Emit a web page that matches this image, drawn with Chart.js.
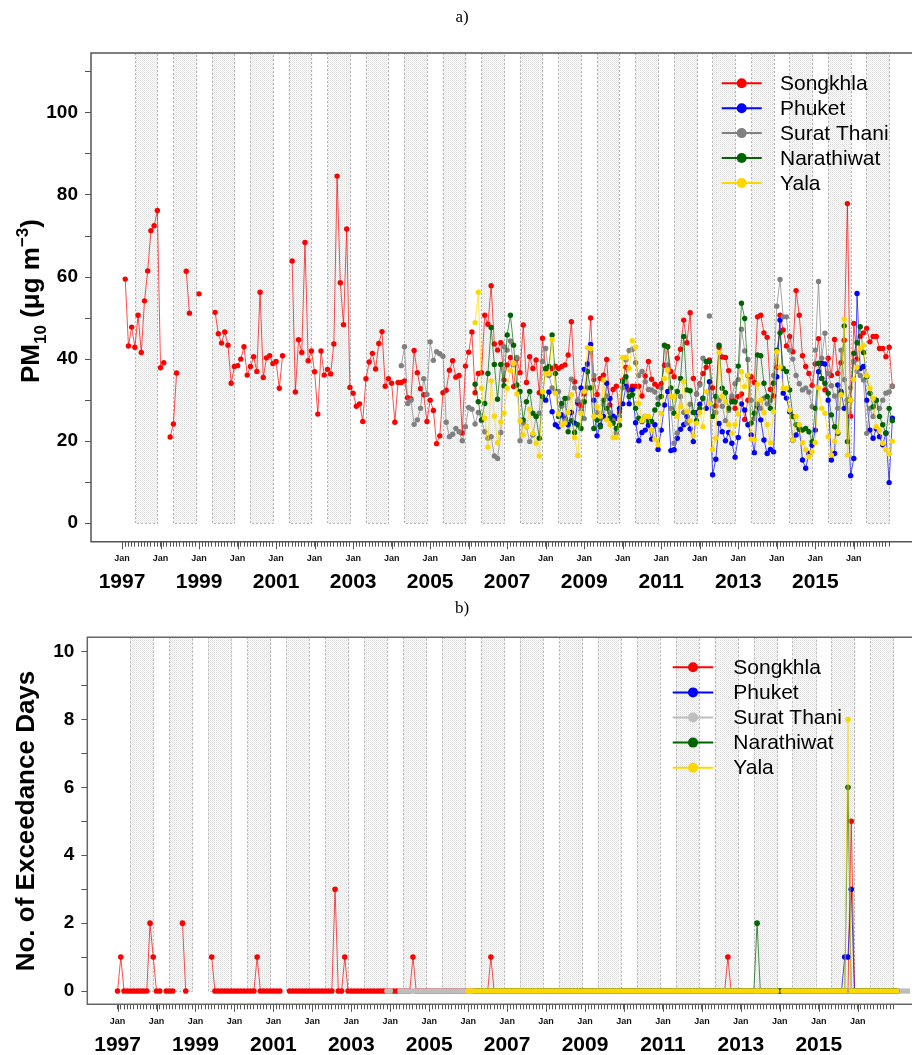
<!DOCTYPE html>
<html>
<head>
<meta charset="utf-8">
<script src="https://cdn.jsdelivr.net/npm/chart.js@4.4.0/dist/chart.umd.min.js"></script>
<style>
  html, body { margin: 0; padding: 0; background: #fff; }
  #panelA { position: absolute; left: 0; top: 0; }
  #panelB { position: absolute; left: 0; top: 596px; }
</style>
</head>
<body>
<canvas id="panelA" width="914" height="596"></canvas>
<canvas id="panelB" width="914" height="459"></canvas>
<script>
// months are counted from Jan 1997 (0) to Jan 2017 (240)
const stations = ["Songkhla", "Phuket", "Surat Thani", "Narathiwat", "Yala"];
const colorsA = ["#ff0000", "#0000ff", "#808080", "#006400", "#ffd700"];
const colorsB = ["#ff0000", "#0000ff", "#bebebe", "#006400", "#ffd700"];

const monthTicks = Array.from({ length: 240 }, (_, i) => i);
const yearTicks = [0, 24, 48, 72, 96, 120, 144, 168, 192, 216];
const firstYear = 1997;
// shaded season inside each year (month offsets)
const bandStart = 3.9;
const bandEnd = 11.3;

// ---- a) monthly PM10 (ug m-3) ----
const songkhlaStart = 0;
const songkhlaPM = [
  null, 59.5, 43.2, 47.8, 42.9, 50.7, 41.6, 54.2, 61.5, 71.3, 72.5, 76.2,
  37.9, 39.1, null, 21.0, 24.2, 36.6, null, null, 61.4, 51.2, null, null,
  55.9, null, null, null, null, 51.4, 46.2, 43.9, 46.6, 43.4, 34.1, 38.2,
  38.4, 40.0, 43.0, 36.1, 38.2, 40.6, 37.0, 56.3, 35.5, 40.3, 40.8, 38.9,
  39.4, 32.9, 40.8, null, null, 63.9, 32.0, 44.7, 41.6, 68.4, 39.6, 42.0,
  36.9, 26.6, 42.0, 36.1, 37.5, 36.4, 43.7, 84.6, 58.6, 48.4, 71.7, 33.1,
  31.7, 28.5, 29.1, 24.8, 35.2, 39.3, 41.4, 37.6, 43.8, 46.7, 33.4, 35.2,
  34.1, 24.6, 34.3, 34.3, 34.7, 30.6, 30.3, 42.1, 36.7, 32.8, 31.3, 24.8,
  30.0, 27.5, 19.4, 21.3, 31.8, 32.4, 37.3, 39.6, 35.6, 36.0, 22.0, 38.3,
  41.7, 46.6, 31.8, 36.5, 36.7, 50.7, 48.5, 57.9, 43.7, 42.2, 44.0, 34.9,
  38.6, 40.4, 33.3, 40.1, 36.7, 48.3, 34.3, 40.6, 37.7, 39.8, 31.8, 45.1,
  37.5, 36.5, 37.7, 38.3, 37.7, 38.2, 38.6, 41.0, 49.1, 34.5, 29.2, 28.6,
  31.5, 37.0, 50.0, 35.0, 31.4, 35.3, 36.1, 39.9, 28.8, 32.6, 33.4, 27.2,
  34.9, 38.0, 32.5, 33.4, 33.4, 33.4, 31.0, 35.9, 39.4, 35.1, 33.9, 33.3,
  34.0, 38.5, 43.0, 37.0, 35.7, 40.2, 42.4, 49.5, 44.0, 51.3, 35.3, 31.5,
  34.0, 36.5, 38.0, 39.8, 33.0, 28.6, 42.9, 40.5, 40.4, 37.2, 30.4, 28.0,
  30.9, 31.5, 25.3, 30.0, 35.7, 34.3, 50.3, 50.7, 46.4, 45.3, 32.6, 31.0,
  38.0, 50.7, 47.1, 43.2, 45.5, 41.8, 56.7, 50.7, 40.8, 38.2, 36.5, 33.6,
  38.8, 45.0, 35.3, 32.5, 40.2, 36.0, 44.8, 36.5, 39.1, 44.6, 77.9, 26.1,
  48.7, 40.0, 45.6, 46.4, 47.5, 44.2, 45.5, 45.5, 42.6, 42.6, 40.6, 42.9,
  33.4
];

const phuketStart = 132;
const phuketPM = [
  30.0, 32.0, 27.2, 24.0, 23.5, 26.4, 25.6, 24.0, 27.0, 24.4, 29.6, 33.0,
  37.5, 38.8, 43.6, 30.0, 21.3, 23.9, 26.0, 34.1, 30.4, 26.1, 25.6, 28.0,
  29.1, 33.4, 29.1, 32.6, 24.5, 20.1, 22.1, 22.7, 23.9, 20.5, 24.0, 18.0,
  22.7, 28.8, 32.1, 17.7, 17.9, 20.7, 22.9, 24.0, 26.0, 23.0, 19.9, 27.0,
  29.0, 30.5, 28.0, 34.5, 11.8, 15.6, 24.3, 22.3, 20.1, 22.1, 19.5, 16.1,
  20.9, 29.1, 27.6, 24.0, 21.5, 17.2, 28.4, 25.2, 20.3, 17.0, 18.0, 17.4,
  35.7, 49.5, 31.7, 30.5, 27.2, 20.3, 21.5, 23.1, 15.4, 13.4, 17.0, 19.0,
  22.7, 36.9, 39.0, 38.8, 30.0, 15.4, 17.0, 33.7, 32.1, 28.0, 30.0, 11.6,
  15.8, 56.0, 37.7, 38.2, 30.0, 22.7, 20.7, 23.0, 21.1, 19.1, 22.0, 9.9,
  25.6
];

const suratStart = 87;
const suratPM = [
  38.4, 43.0, 29.2, 30.0, 24.1, 25.2, 28.0, 35.2, 31.4,
  44.2, 39.7, 41.8, 41.3, 40.7, 24.6, 21.1, 21.7, 23.1, 22.3, 20.1, 23.5,
  28.2, 27.8, 24.2, 27.0, 25.0, 22.3, 20.7, 21.1, 16.4, 15.8, 22.1, 43.0,
  42.2, 44.4, 38.6, 40.4, 20.1, 24.4, 23.5, 19.9, 21.5, 26.0, 26.8, 39.4,
  42.6, 36.0, 33.0, 32.1, 32.1, 28.5, 25.0, 30.5, 35.1, 33.0, 30.0, 27.5,
  25.5, 33.0, 41.8, 36.0, 27.0, 25.5, 29.0, 31.0, 27.0, 25.0, 22.0, 26.0,
  33.0, 39.8, 42.1, 42.4, 39.1, 36.0, 37.0, 34.5, 32.6, 32.5, 32.0, 30.5,
  33.0, 43.3, 38.6, 28.0, 19.5, 22.0, 30.9, 27.0, 24.4, 29.0, 27.0, 31.5,
  33.7, 40.2, null, 50.5, null, 27.0, 30.0, 28.5, 25.0, 27.5, 31.0, 34.0,
  35.0, 47.3, 42.0, 39.9, 30.0, 25.5, 29.1, 28.0, 30.5, 29.1, 30.0, 36.0,
  52.9, 59.4, 50.3, 50.3, 42.2, 40.0, 36.0, 34.0, 32.5, 33.0, 32.0, 28.4,
  42.2, 58.9, 40.2, 46.3, 36.5, 33.5, 31.0, 28.0, 42.2, 35.0, 30.0, 33.0,
  39.4, 37.0, 36.0, 34.9, 21.9, 28.0, 26.0, 30.0, 28.0, 30.0, 31.7, 32.0,
  33.4
];

const narathiwatStart = 110;
const narathiwatPM = [
  33.9, 29.6, 25.2, 29.2, 36.5, 47.7, 38.7, 30.2, 38.7, 33.5,
  45.9, 50.7, 43.4, 33.7, 32.1, 25.2, 29.6, 32.1, 26.8, 26.0, 20.7, 30.9,
  37.7, 38.2, 45.9, 36.5, 26.0, 29.2, 30.4, 22.3, 25.0, 22.1, 24.0, 23.1,
  29.6, 36.9, 33.0, 23.1, 25.2, 23.5, 30.0, 28.0, 25.6, 24.4, 23.1, 23.9,
  34.5, 35.7, 30.9, 31.3, 28.0, 25.6, 24.8, 26.0, 25.0, 24.8, 27.6, 29.0,
  30.9, 43.4, 43.0, 33.0, 26.8, 32.1, 35.3, 45.5, 32.5, 32.3, 27.0, 25.0,
  28.0, 30.4, 39.4, 39.4, 26.0, 30.9, 43.4, 32.9, 31.8, 28.0, 29.6, 29.6,
  38.3, 53.6, 49.9, 36.0, 24.4, 26.8, 41.0, 40.8, 34.1, 30.9, 28.0, 34.1,
  42.2, 46.4, 37.7, 37.0, 32.5, 26.0, 24.0, 22.9, 22.7, 23.1, 22.3, 19.9,
  28.0, 39.0, 35.3, 34.1, 31.7, 26.4, 23.5, 21.9, 31.7, 48.1, 19.9, 30.0,
  41.4, 44.0, 47.9, 41.6, 35.7, 31.7, 28.4, 30.0, 26.0, 24.0, 21.9, 28.0,
  25.0
];

const yalaStart = 110;
const yalaPM = [
  48.9, 56.3, 32.9, 25.6, 18.5, 34.7, 26.1, 19.6, 24.7, 26.8,
  32.9, 37.2, 39.0, 31.5, 25.0, 21.5, 23.5, 27.8, 21.9, 19.5, 16.4, 32.1,
  36.4, 36.5, 44.7, 31.7, 26.6, 23.9, 24.4, 27.0, 31.3, 20.9, 16.5, 26.8,
  32.1, 42.8, 42.6, 26.0, 28.4, 26.1, 34.9, 25.2, 24.0, 20.9, 20.9, 25.2,
  40.4, 40.4, 37.7, 44.5, 42.9, 29.2, 25.0, 26.0, 26.0, 22.7, 20.5, 19.1,
  26.8, 35.3, 37.3, 30.9, 30.9, 26.0, 28.4, 34.5, 27.2, 25.0, 21.3, 24.4,
  27.0, 23.5, 32.1, 29.2, 18.0, 20.7, 41.6, 30.9, 29.6, 24.0, 21.9, 24.0,
  26.6, 36.9, 33.3, 36.1, 20.5, 20.3, 33.9, 30.0, 27.0, 24.0, 19.6, 27.2,
  41.8, 38.0, 32.9, 32.9, 27.6, 20.3, 26.0, 24.0, 19.6, 17.9, 16.2, 17.4,
  19.6, 33.0, 28.0, 26.8, 21.1, 16.6, 20.0, 22.3, 31.3, 49.7, 16.6, 30.0,
  35.0, 38.0, 42.6, 43.4, 36.0, 32.9, 30.4, 23.5, 22.7, 19.5, 17.9, 16.9,
  20.0
];

// ---- b) monthly number of exceedance days ----
const songkhlaDays = [
  0, 1, 0, 0, 0, 0, 0, 0, 0, 0, 2, 1,
  0, 0, null, 0, 0, 0, null, null, 2, 0, null, null,
  null, null, null, null, null, 1, 0, 0, 0, 0, 0, 0,
  0, 0, 0, 0, 0, 0, 0, 1, 0, 0, 0, 0,
  0, 0, 0, null, null, 0, 0, 0, 0, 0, 0, 0,
  0, 0, 0, 0, 0, 0, 0, 3, 0, 0, 1, 0,
  0, 0, 0, 0, 0, 0, 0, 0, 0, 0, 0, 0,
  0, 0, 0, 0, 0, 0, 0, 1, 0, 0, 0, 0,
  0, 0, 0, 0, 0, 0, 0, 0, 0, 0, 0, 0,
  0, 0, 0, 0, 0, 0, 0, 1, 0, 0, 0, 0,
  0, 0, 0, 0, 0, 0, 0, 0, 0, 0, 0, 0,
  0, 0, 0, 0, 0, 0, 0, 0, 0, 0, 0, 0,
  0, 0, 0, 0, 0, 0, 0, 0, 0, 0, 0, 0,
  0, 0, 0, 0, 0, 0, 0, 0, 0, 0, 0, 0,
  0, 0, 0, 0, 0, 0, 0, 0, 0, 0, 0, 0,
  0, 0, 0, 0, 0, 0, 0, 0, 1, 0, 0, 0,
  0, 0, 0, 0, 0, 0, 0, 0, 0, 0, 0, 0,
  0, 0, 0, 0, 0, 0, 0, 0, 0, 0, 0, 0,
  0, 0, 0, 0, 0, 0, 0, 0, 0, 0, 5, 0,
  0, 0, 0, 0, 0, 0, 0, 0, 0, 0, 0, 0,
  0
];

const phuketDays = [
  0, 0, 0, 0, 0, 0, 0, 0, 0, 0, 0, 0,
  0, 0, 0, 0, 0, 0, 0, 0, 0, 0, 0, 0,
  0, 0, 0, 0, 0, 0, 0, 0, 0, 0, 0, 0,
  0, 0, 0, 0, 0, 0, 0, 0, 0, 0, 0, 0,
  0, 0, 0, 0, 0, 0, 0, 0, 0, 0, 0, 0,
  0, 0, 0, 0, 0, 0, 0, 0, 0, 0, 0, 0,
  0, 0, 0, 0, 0, 0, 0, 0, 0, 0, 0, 0,
  0, 0, 0, 0, 0, 0, 0, 0, 1, 1, 3, 0,
  0, 0, 0, 0, 0, 0, 0, 0, 0, 0, 0, 0,
  0
];

const suratDaysStart = 83;
const suratDays = [
  0,
  0, null, null, 0, 0, 0, 0, 0, 0, 0, 0, 0,
  0, 0, 0, 0, 0, 0, 0, 0, 0, 0, 0, 0,
  0, 0, 0, 0, 0, 0, 0, 0, 0, 0, 0, 0,
  0, 0, 0, 0, 0, 0, 0, 0, 0, 0, 0, 0,
  0, 0, 0, 0, 0, 0, 0, 0, 0, 0, 0, 0,
  0, 0, 0, 0, 0, 0, 0, 0, 0, 0, 0, 0,
  0, 0, 0, 0, 0, 0, 0, 0, 0, 0, 0, 0,
  0, 0, 0, 0, 0, 0, 0, 0, 0, 0, 0, 0,
  0, 0, 0, 0, 0, 0, 0, 0, 0, 0, 0, 0,
  0, 0, 0, 0, 0, 0, 0, 0, 0, 0, 0, 0,
  0, 0, 0, 0, 0, 0, 0, 0, 0, 0, 0, 0,
  0, 0, 0, 0, 0, 0, 0, 0, 0, 0, 0, 0,
  0, 0, 0, 0, 0, 0, 0, 0, 0, 0, 0, 0,
  0, 0, 0, 0, 0, 0, 0, 0, 0, 0, 0, 0,
  0
];

const narathiwatDays = [
  0, 0, 0, 0, 0, 0, 0, 0, 0, 0,
  0, 0, 0, 0, 0, 0, 0, 0, 0, 0, 0, 0,
  0, 0, 0, 0, 0, 0, 0, 0, 0, 0, 0, 0,
  0, 0, 0, 0, 0, 0, 0, 0, 0, 0, 0, 0,
  0, 0, 0, 0, 0, 0, 0, 0, 0, 0, 0, 0,
  0, 0, 0, 0, 0, 0, 0, 0, 0, 0, 0, 0,
  0, 0, 0, 0, 0, 0, 0, 0, 0, 0, 0, 0,
  0, 0, 0, 0, 0, 2, 0, 0, 0, 0, 0, 0,
  0, 0, 0, 0, 0, 0, 0, 0, 0, 0, 0, 0,
  0, 0, 0, 0, 0, 0, 0, 0, 0, 6, 0, 0,
  0, 0, 0, 0, 0, 0, 0, 0, 0, 0, 0, 0,
  0
];

const yalaDaysStart = 108;
const yalaDays = [
  0, 0, 0, 0, 0, 0, 0, 0, 0, 0, 0, 0,
  0, 0, 0, 0, 0, 0, 0, 0, 0, 0, 0, 0,
  0, 0, 0, 0, 0, 0, 0, 0, 0, 0, 0, 0,
  0, 0, 0, 0, 0, 0, 0, 0, 0, 0, 0, 0,
  0, 0, 0, 0, 0, 0, 0, 0, 0, 0, 0, 0,
  0, 0, 0, 0, 0, 0, 0, 0, 0, 0, 0, 0,
  0, 0, 0, 0, 0, 0, 0, 0, 0, 0, 0, 0,
  0, 0, 0, 0, 0, 0, 0, 0, 0, 0, 0, 0,
  null, 0, 0, 0, 0, 0, 0, 0, 0, 0, 0, 0,
  0, 0, 0, 0, 0, 0, 0, 0, 0, 8, 0, 0,
  0, 0, 0, 0, 0, 0, 0, 0, 0, 0, 0, 0,
  0
];

Chart.defaults.font.family = "'Liberation Sans', Arial, sans-serif";

// turn a series that begins at month `start` into {x, y} points
function toPoints(start, values) {
  return values.map((v, i) => ({ x: start + i, y: v }));
}

function withAlpha(hex, a) {
  const n = parseInt(hex.slice(1), 16);
  return `rgba(${(n >> 16) & 255},${(n >> 8) & 255},${n & 255},${a})`;
}

function makeDatasets(series, colors, radius) {
  return series.map((pts, i) => ({
    label: stations[i],
    data: pts,
    borderColor: withAlpha(colors[i], 0.7),
    backgroundColor: colors[i],
    pointBackgroundColor: colors[i],
    pointBorderColor: colors[i],
    pointBorderWidth: 0,
    pointRadius: radius,
    borderWidth: 1,
    spanGaps: false,
    tension: 0,
    order: stations.length - i // Yala ends up on top, like the original
  }));
}

// bands, box, long Jan ticks, axis title, panel letter and legend
const panelDeco = {
  id: "panelDeco",
  beforeDatasetsDraw(chart, args, o) {
    const { ctx, chartArea: a, scales } = chart;
    const x = scales.x, y = scales.y;
    if (!chart.$hatch) {
      const c = document.createElement("canvas");
      c.width = 2; c.height = 2;
      const g = c.getContext("2d");
      g.fillStyle = "rgba(150,150,150,0.32)";
      g.fillRect(0, 0, 1, 1);
      g.fillStyle = "rgba(180,180,180,0.28)";
      g.fillRect(1, 1, 1, 1);
      chart.$hatch = ctx.createPattern(c, "repeat");
    }
    const y0 = y.getPixelForValue(0);
    ctx.save();
    ctx.beginPath();
    ctx.rect(a.left, a.top, a.right - a.left, a.bottom - a.top);
    ctx.clip();
    for (let yr = 0; yr < 20; yr++) {
      const x1 = x.getPixelForValue(yr * 12 + bandStart);
      const x2 = x.getPixelForValue(yr * 12 + bandEnd);
      ctx.fillStyle = chart.$hatch;
      ctx.fillRect(x1, a.top, x2 - x1, y0 - a.top);
      ctx.setLineDash([2, 2]);
      ctx.strokeStyle = "#b4b4b4";
      ctx.lineWidth = 1;
      ctx.beginPath();
      ctx.moveTo(Math.round(x1) + 0.5, a.top);
      ctx.lineTo(Math.round(x1) + 0.5, Math.round(y0) + 0.5);
      ctx.lineTo(Math.round(x2) - 0.5, Math.round(y0) + 0.5);
      ctx.lineTo(Math.round(x2) - 0.5, a.top);
      ctx.stroke();
    }
    ctx.restore();
  },
  afterDraw(chart, args, o) {
    const { ctx, chartArea: a, scales } = chart;
    const x = scales.x;
    ctx.save();
    // plot box (open on the right, cut by the page edge)
    ctx.strokeStyle = o.boxColor;
    ctx.lineWidth = 1.5;
    ctx.beginPath();
    ctx.moveTo(a.right + 2, a.top);
    ctx.lineTo(a.left, a.top);
    ctx.lineTo(a.left, a.bottom);
    ctx.lineTo(a.right + 2, a.bottom);
    ctx.stroke();

    // longer tick at every January
    ctx.strokeStyle = "#555";
    ctx.lineWidth = 1;
    yearTicks.concat(yearTicks.map(v => v + 12)).forEach(m => {
      const px = Math.round(x.getPixelForValue(m)) + 0.5;
      ctx.beginPath();
      ctx.moveTo(px, a.bottom);
      ctx.lineTo(px, a.bottom + 7.5);
      ctx.stroke();
    });

    // panel letter
    ctx.fillStyle = "#000";
    ctx.font = "17px 'Liberation Serif', 'Times New Roman', serif";
    ctx.textAlign = "center";
    ctx.textBaseline = "middle";
    ctx.fillText(o.letter, 462, o.letterY);

    // rotated y title built from pieces (sub/superscripts)
    ctx.save();
    ctx.translate(o.titleX, o.titleY);
    ctx.rotate(-Math.PI / 2);
    ctx.textAlign = "left";
    ctx.textBaseline = "alphabetic";
    let total = 0;
    o.title.forEach(p => {
      ctx.font = `bold ${p.size}px 'Liberation Sans', Arial, sans-serif`;
      p.w = ctx.measureText(p.text).width;
      total += p.w;
    });
    let tx = -total / 2;
    o.title.forEach(p => {
      ctx.font = `bold ${p.size}px 'Liberation Sans', Arial, sans-serif`;
      ctx.fillText(p.text, tx, -p.shift);
      tx += p.w;
    });
    ctx.restore();

    // legend inside the plot
    const lg = o.legend;
    ctx.font = "21px 'Liberation Sans', Arial, sans-serif";
    ctx.textAlign = "left";
    ctx.textBaseline = "middle";
    chart.data.datasets.forEach((ds, i) => {
      const ly = lg.y0 + i * lg.step;
      ctx.strokeStyle = ds.pointBackgroundColor;
      ctx.lineWidth = 2;
      ctx.beginPath();
      ctx.moveTo(lg.x1, ly);
      ctx.lineTo(lg.x2, ly);
      ctx.stroke();
      ctx.fillStyle = ds.pointBackgroundColor;
      ctx.beginPath();
      ctx.arc((lg.x1 + lg.x2) / 2, ly, 5, 0, Math.PI * 2);
      ctx.fill();
      ctx.fillStyle = "#000";
      ctx.fillText(ds.label, lg.textX, ly + 1);
    });
    ctx.restore();
  }
};

function buildChart(id, cfg) {
  return new Chart(document.getElementById(id), {
    type: "line",
    data: { datasets: cfg.datasets },
    options: {
      responsive: false,
      animation: false,
      devicePixelRatio: 1,
      layout: { padding: { top: cfg.top, left: 0, right: 0, bottom: 0 } },
      plugins: {
        legend: { display: false },
        tooltip: { enabled: false },
        panelDeco: cfg.deco
      },
      scales: {
        x: {
          type: "linear",
          position: "bottom",
          weight: 0,
          min: cfg.xMin,
          max: cfg.xMax,
          afterBuildTicks: s => { s.ticks = monthTicks.map(v => ({ value: v })); },
          afterFit: s => { s.height = cfg.xHeight; },
          grid: { drawOnChartArea: false, drawTicks: true, tickLength: 5, color: "#555" },
          border: { display: false },
          ticks: {
            autoSkip: false, maxRotation: 0, minRotation: 0,
            padding: cfg.janPad,
            font: { size: 9, weight: "bold" },
            color: "#111",
            callback: v => (v % 12 === 0 ? "Jan" : "")
          }
        },
        x2: {
          type: "linear",
          position: "bottom",
          weight: 1,
          min: cfg.xMin,
          max: cfg.xMax,
          afterBuildTicks: s => { s.ticks = yearTicks.map(v => ({ value: v })); },
          afterFit: s => { s.height = cfg.x2Height; },
          grid: { display: false, drawTicks: false },
          border: { display: false },
          ticks: {
            autoSkip: false, maxRotation: 0, minRotation: 0, padding: 0,
            font: { size: 21, weight: "bold" },
            color: "#000",
            callback: v => String(firstYear + v / 12)
          }
        },
        y: {
          min: cfg.yMin,
          max: cfg.yMax,
          afterBuildTicks: s => { s.ticks = cfg.yTicks.map(v => ({ value: v })); },
          afterFit: s => { s.width = cfg.yWidth; },
          grid: { drawOnChartArea: false, tickLength: 6, color: "#555" },
          border: { display: false },
          ticks: {
            padding: 7,
            font: { size: 19, weight: "bold" },
            color: "#000",
            callback: v => (v % cfg.yLabelStep === 0 ? String(v) : "")
          }
        }
      }
    },
    plugins: [panelDeco]
  });
}

// panel a)
buildChart("panelA", {
  datasets: makeDatasets([
    toPoints(songkhlaStart, songkhlaPM),
    toPoints(phuketStart, phuketPM),
    toPoints(suratStart, suratPM),
    toPoints(narathiwatStart, narathiwatPM),
    toPoints(yalaStart, yalaPM)
  ], colorsA, 2.7),
  top: 53,
  xMin: -9.67, xMax: 245.5,
  xHeight: 27.6, x2Height: 26.7, janPad: 6.6,
  yMin: -4.5, yMax: 114.6,
  yTicks: [0, 10, 20, 30, 40, 50, 60, 70, 80, 90, 100, 110],
  yLabelStep: 20,
  yWidth: 91,
  deco: {
    boxColor: "#555",
    letter: "a)", letterY: 18,
    titleX: 38.5, titleY: 301,
    title: [
      { text: "PM", size: 26, shift: 0 },
      { text: "10", size: 17, shift: -7 },
      { text: " (\u03bcg m", size: 26, shift: 0 },
      { text: "\u22123", size: 17, shift: 11 },
      { text: ")", size: 26, shift: 0 }
    ],
    legend: { x1: 721.7, x2: 761.7, textX: 780, y0: 83.3, step: 24.9 }
  }
});

// panel b)
buildChart("panelB", {
  datasets: makeDatasets([
    toPoints(0, songkhlaDays),
    toPoints(phuketStart, phuketDays),
    toPoints(suratDaysStart, suratDays),
    toPoints(narathiwatStart, narathiwatDays),
    toPoints(yalaDaysStart, yalaDays)
  ], colorsB, 2.8),
  top: 41.3,
  xMin: -9.32, xMax: 244.1,
  xHeight: 28.4, x2Height: 22.3, janPad: 7.3,
  yMin: -0.39, yMax: 10.42,
  yTicks: [0, 1, 2, 3, 4, 5, 6, 7, 8, 9, 10],
  yLabelStep: 2,
  yWidth: 87.3,
  deco: {
    boxColor: "#666",
    letter: "b)", letterY: 13,
    titleX: 33.5, titleY: 225,
    title: [{ text: "No. of Exceedance Days", size: 26, shift: 0 }],
    legend: { x1: 672.7, x2: 713.3, textX: 733.3, y0: 71.3, step: 25.1 }
  }
});
</script>
</body>
</html>
